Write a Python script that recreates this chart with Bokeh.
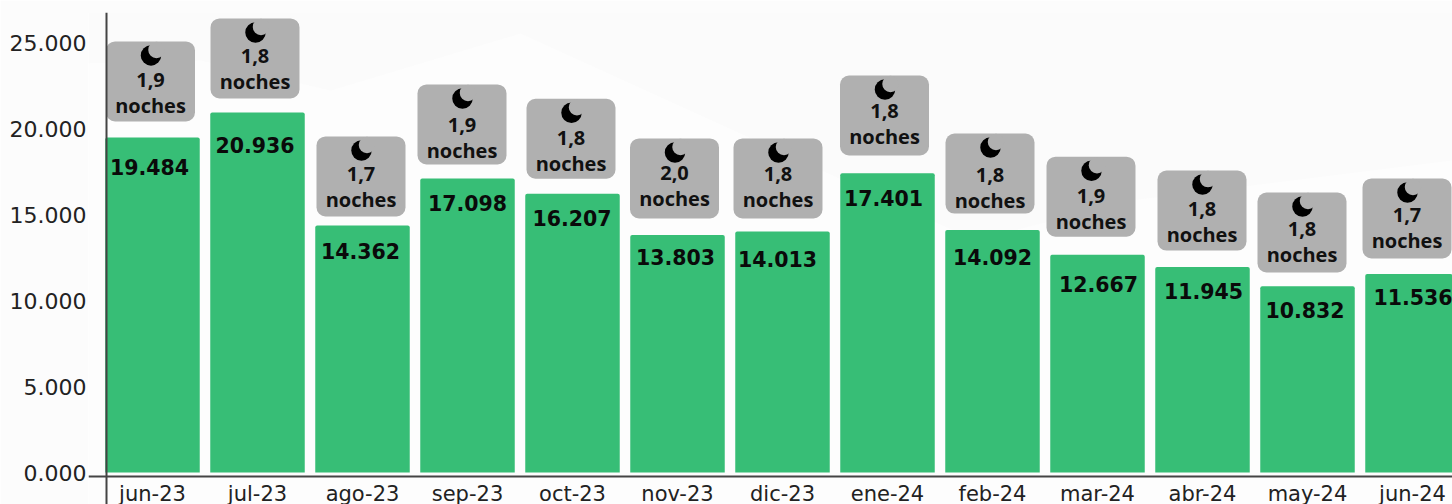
from bokeh.embed import file_html
from bokeh.resources import INLINE
from bokeh.plotting import figure
from bokeh.models import ColumnDataSource, FixedTicker, Range1d, Span
from bokeh.core.properties import value

months = ["jun-23", "jul-23", "ago-23", "sep-23", "oct-23", "nov-23", "dic-23",
          "ene-24", "feb-24", "mar-24", "abr-24", "may-24", "jun-24"]
visitors = [19484, 20936, 14362, 17098, 16207, 13803, 14013,
            17401, 14092, 12667, 11945, 10832, 11536]
nights = ["1,9", "1,8", "1,7", "1,9", "1,8", "2,0", "1,8",
          "1,8", "1,8", "1,9", "1,8", "1,8", "1,7"]
y_ticks = [0, 5000, 10000, 15000, 20000, 25000]
y_labels = ["0.000", "5.000", "10.000", "15.000", "20.000", "25.000"]

# layout nudges in screen pixels
badge_dx = [-2, -2.5, -1.5, -5.5, -1.5, -3, -4.5, -3, -2.5, -6.5, -.5, -5.5, -5.5]
badge_gap = [16, 14, 9, 14, 15, 16.6, 13, 17.7, 16.6, 18, 16.5, 13.7, 15.6]
badge_text_dy = [0, -1, -1, 2, 0, -4, -3, -4, 2, 0, -1, -2, -2]
label_dx = [-3, -2.5, -2, 0, -.5, -2, -5, -4, 0, 1, 1, -2.5, .5]
label_drop = [30, 33, 26, 25, 24, 22, 28, 25, 27, 29, 24, 24, 23]
backdrop_px = [(0, 0), (1452, 0), (1452, 160), (1130, 200), (975, 240), (520, 33),
               (330, 90), (200, 60), (0, 65)]

PX_X = 105.0      # px per category
PX_Y = 0.0172     # px per unit
X0 = 152.0        # page px of category 0
Y0 = 472.0        # page px of value 0
F_L, F_R, F_T, F_B = 88, 1452, 12, 504
AXIS_PX = 476


def dx(px):
    return px / PX_X


def dy(px):
    return px / PX_Y


GREEN = "#37BE76"
GREY = "#B0B0B0"
idx = list(range(len(months)))

p = figure(width=1452, height=504, output_backend="svg", toolbar_location=None,
           x_range=Range1d((F_L - X0) / PX_X, (F_R - X0) / PX_X),
           y_range=Range1d(dy(Y0 - F_B), dy(Y0 - F_T)),
           min_border_left=F_L, min_border_right=0,
           min_border_top=F_T, min_border_bottom=0,
           background_fill_color="#FDFDFD", border_fill_color="#FCFCFC", outline_line_color=None)
p.grid.visible = False

p.patch([(a - X0) / PX_X for a, _ in backdrop_px], [dy(Y0 - b) for _, b in backdrop_px],
        fill_color="#FBFBFB", line_color=None)

cx = [i + dx(d) for i, d in zip(idx, badge_dx)]
bottoms = [v + dy(g) for v, g in zip(visitors, badge_gap)]
src = ColumnDataSource(dict(
    x=idx, v=visitors, n=nights,
    left=[c - dx(44.5) for c in cx], right=[c + dx(44.5) for c in cx],
    bottom=bottoms, top=[b + dy(80) for b in bottoms],
    moon_x=[c + dx(.5) for c in cx],
    moon_y=[b + dy(66) for b in bottoms],
    bite_x=[c + dx(6) for c in cx],
    bite_y=[b + dy(71.5) for b in bottoms],
    n_y=[b + dy(41 - t) for b, t in zip(bottoms, badge_text_dy)],
    w_y=[b + dy(15.5 - t) for b, t in zip(bottoms, badge_text_dy)],
    noches=["noches"] * len(idx),
    lx=[i + dx(d) for i, d in zip(idx, label_dx)],
    ly=[v - dy(d) for v, d in zip(visitors, label_drop)],
    vtext=[f"{v:,}".replace(",", ".") for v in visitors],
    cx=cx,
))

p.vbar(x="x", top="v", bottom=0, width=94.5 / PX_X, source=src, fill_color=GREEN,
       line_color=None, border_radius={"top_left": 2, "top_right": 2, "bottom_left": 0, "bottom_right": 0})
p.quad(left="left", right="right", bottom="bottom", top="top", source=src, fill_color=GREY,
       line_color=None, border_radius=9)
p.scatter(x="moon_x", y="moon_y", size=20.5, marker="circle", source=src, fill_color="#000000", line_color=None)
p.scatter(x="bite_x", y="bite_y", size=16.5, marker="circle", source=src, fill_color=GREY, line_color=None)
p.text(x="cx", y="n_y", text="n", source=src,
       text_font=value("Open Sans"), text_font_style="bold", text_font_size="20px",
       text_align="center", text_baseline="alphabetic", text_color="#111111")
p.text(x="cx", y="w_y", text="noches", source=src,
       text_font=value("Open Sans"), text_font_style="bold", text_font_size="20px",
       text_align="center", text_baseline="alphabetic", text_color="#111111")
p.text(x="lx", y="ly", text="vtext", source=src,
       text_font=value("DejaVu Sans"), text_font_style="bold", text_font_size="20.5px",
       text_align="center", text_baseline="alphabetic", text_color="#0A0A0A")

p.add_layout(Span(location=(106 - X0) / PX_X, dimension="height", line_color="#444444", line_width=2))

xa = p.xaxis[0]
xa.fixed_location = dy(Y0 - AXIS_PX)
xa.ticker = FixedTicker(ticks=idx)
xa.major_label_overrides = dict(zip(idx, months))
xa.major_tick_line_color = None
xa.major_tick_in = 0
xa.major_tick_out = 0
xa.minor_tick_line_color = None
xa.minor_tick_in = 0
xa.minor_tick_out = 0
xa.axis_line_color = "#444444"
xa.axis_line_width = 2
xa.major_label_text_font = "DejaVu Sans"
xa.major_label_text_font_size = "21px"
xa.major_label_text_color = "#222222"
xa.major_label_standoff = 5

ya = p.yaxis[0]
ya.ticker = FixedTicker(ticks=y_ticks)
ya.major_label_overrides = dict(zip(y_ticks, y_labels))
ya.major_tick_line_color = None
ya.major_tick_in = 0
ya.major_tick_out = 0
ya.minor_tick_line_color = None
ya.minor_tick_in = 0
ya.minor_tick_out = 0
ya.axis_line_color = None
ya.major_label_text_font = "DejaVu Sans"
ya.major_label_text_font_size = "22px"
ya.major_label_text_color = "#222222"
ya.major_label_standoff = 2

open("out.html", "w").write(file_html(p, INLINE))
